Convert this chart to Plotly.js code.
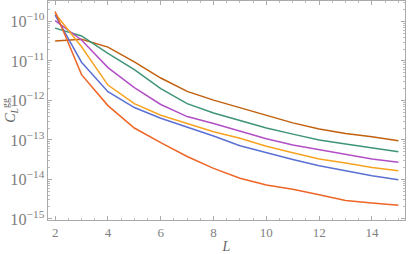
<!DOCTYPE html>
<html>
<head>
<meta charset="utf-8">
<script src="https://cdn.plot.ly/plotly-3.0.1.min.js"></script>
<style>html,body{margin:0;padding:0;background:#fff;}#chart{width:409px;height:254px;}</style>
</head>
<body>
<div id="chart"></div>
<script>
var L = [2,3,4,5,6,7,8,9,10,11,12,13,14,15];
var redVals    = [1.8e-10, 4.5e-12, 7.4e-13, 2.0e-13, 8.5e-14, 3.8e-14, 1.9e-14, 1.07e-14, 7.2e-15, 5.6e-15, 4.1e-15, 2.9e-15, 2.5e-15, 2.2e-15];
var blueVals   = [1.45e-10, 9.3e-12, 1.66e-12, 6.6e-13, 3.55e-13, 2.1e-13, 1.26e-13, 7.1e-14, 4.7e-14, 3.2e-14, 2.2e-14, 1.66e-14, 1.23e-14, 9.8e-15];
var orangeVals = [1.6e-10, 2.3e-11, 2.45e-12, 8.3e-13, 4.2e-13, 2.6e-13, 1.6e-13, 1.1e-13, 6.9e-14, 4.7e-14, 3.3e-14, 2.6e-14, 2.0e-14, 1.66e-14];
var purpleVals = [1.05e-10, 3.4e-11, 6.8e-12, 2.1e-12, 7.9e-13, 3.9e-13, 2.6e-13, 1.7e-13, 1.07e-13, 7.4e-14, 5.6e-14, 4.2e-14, 3.3e-14, 2.7e-14];
var greenVals  = [6.8e-11, 4.3e-11, 1.55e-11, 6.0e-12, 2.0e-12, 8.3e-13, 4.8e-13, 3.1e-13, 2.0e-13, 1.4e-13, 1.0e-13, 7.9e-14, 6.3e-14, 5.0e-14];
var brownVals  = [3.2e-11, 3.55e-11, 2.25e-11, 9.5e-12, 3.7e-12, 1.7e-12, 1.02e-12, 6.5e-13, 4.1e-13, 2.7e-13, 1.9e-13, 1.45e-13, 1.2e-13, 9.5e-14];

var series = [
  {y: brownVals,  color: '#C0600E'},
  {y: greenVals,  color: '#3E9478'},
  {y: purpleVals, color: '#B24FC6'},
  {y: orangeVals, color: '#F8A320'},
  {y: blueVals,   color: '#5B70D4'},
  {y: redVals,    color: '#EE6526'}
];
var traces = series.map(function(s){
  return {x: L, y: s.y, type: 'scatter', mode: 'lines',
          line: {color: s.color, width: 1.5}, hoverinfo: 'skip', showlegend: false};
});

var tickFont = {family: 'Liberation Serif, Times New Roman, serif', size: 13, color: '#808080'};
var layout = {
  width: 409, height: 254,
  margin: {l: 48, r: 4, t: 1, b: 34},
  paper_bgcolor: '#fff', plot_bgcolor: '#fff',
  xaxis: {
    range: [1.73, 15.25], tickvals: [2,4,6,8,10,12,14], ticktext: ['2','4','6','8','10','12','14'],
    ticks: 'inside', ticklen: 4, tickcolor: '#aaa', tickwidth: 1,
    minor: {dtick: 0.5, tick0: 2, ticks: 'inside', ticklen: 2, tickcolor: '#bbb'},
    showline: true, linecolor: '#aaa', linewidth: 1, mirror: 'ticks',
    showgrid: false, zeroline: false, tickfont: tickFont,
    title: {text: '<i>L</i>', font: {family: 'Liberation Serif, serif', size: 14, color: '#666'}, standoff: 3}
  },
  yaxis: {
    type: 'log', range: [-15.03, -9.48], dtick: 1, exponentformat: 'power',
    ticks: 'inside', ticklen: 4, tickcolor: '#aaa', tickwidth: 1,
    minor: {dtick: 'D1', ticks: 'inside', ticklen: 2, tickcolor: '#bbb'},
    showline: true, linecolor: '#aaa', linewidth: 1, mirror: 'ticks',
    showgrid: false, zeroline: false, tickfont: tickFont,
    title: {text: '<i>C</i><sub><i>L</i></sub><sup>gg</sup>', font: {family: 'Liberation Serif, serif', size: 14, color: '#666'}, standoff: 0}
  }
};
Plotly.newPlot('chart', traces, layout, {staticPlot: true, displayModeBar: false});
</script>
</body>
</html>
